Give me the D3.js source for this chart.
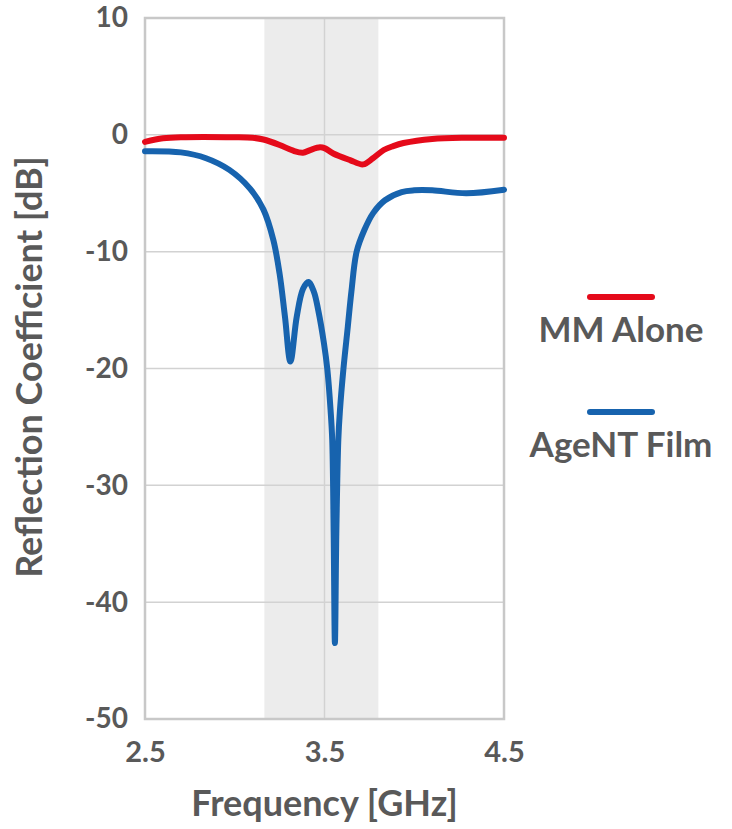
<!DOCTYPE html>
<html>
<head>
<meta charset="utf-8">
<script src="https://cdn.jsdelivr.net/npm/d3@7"></script>
<style>
  html, body { margin: 0; padding: 0; background: #fff; }
  svg { display: block; font-family: Lato, "Open Sans", sans-serif; }
</style>
</head>
<body>
<div id="chart"></div>
<script>
// frequency in GHz, reflection in dB
const mmFreq = [2.5, 2.6, 2.7, 3.0, 3.1, 3.16, 3.25, 3.326, 3.38, 3.42, 3.475, 3.503, 3.549, 3.642, 3.716,
                3.77, 3.83, 3.883, 3.94, 4.1, 4.3, 4.5];
const mmDb   = [-0.6, -0.3, -0.2, -0.2, -0.25, -0.4, -0.87, -1.36, -1.53, -1.3, -1.07, -1.16, -1.6, -2.16, -2.53,
                -2.0, -1.3, -0.96, -0.7, -0.35, -0.25, -0.25];

const filmFreq = [2.5, 2.7, 2.84, 2.97, 3.085, 3.16, 3.215, 3.25, 3.28, 3.31, 3.345, 3.38, 3.41, 3.44, 3.465,
                  3.497, 3.516, 3.534, 3.543, 3.551, 3.558, 3.566, 3.577, 3.586, 3.605, 3.63, 3.65, 3.679,
                  3.722, 3.771, 3.837, 3.93, 4.0, 4.1, 4.29, 4.5];
const filmDb   = [-1.4, -1.5, -2.0, -3.0, -4.6, -6.4, -9.0, -11.9, -15.6, -19.4, -15.6, -13.2, -12.6, -13.4, -15.0,
                  -17.85, -20.1, -23.6, -26.1, -34, -43.5, -34, -26.1, -23.6, -20.1, -16.4, -13.4, -10.0,
                  -8.15, -6.7, -5.6, -4.9, -4.75, -4.75, -5.0, -4.7];

const xTicks = [2.5, 3.5, 4.5];
const yTicks = [10, 0, -10, -20, -30, -40, -50];
const band = [3.165, 3.8];

const seriesNames = ['MM Alone', 'AgeNT Film'];
const seriesColors = ['#e50a1a', '#1763ae'];

const W = 732, H = 829;
const margin = {left: 145, top: 18, right: 228, bottom: 110};
const iw = W - margin.left - margin.right;
const ih = H - margin.top - margin.bottom;

const svg = d3.select('#chart').append('svg')
    .attr('width', W)
    .attr('height', H);

const g = svg.append('g')
    .attr('transform', `translate(${margin.left},${margin.top})`);

const x = d3.scaleLinear().domain([2.5, 4.5]).range([0, iw]);
const y = d3.scaleLinear().domain([-50, 10]).range([ih, 0]);

// shaded band
g.append('rect')
    .attr('x', x(band[0]))
    .attr('y', 0)
    .attr('width', x(band[1]) - x(band[0]))
    .attr('height', ih)
    .attr('fill', '#ececec');

// gridlines
g.append('g').selectAll('line')
    .data(yTicks)
    .join('line')
    .attr('x1', 0).attr('x2', iw)
    .attr('y1', d => y(d)).attr('y2', d => y(d))
    .attr('stroke', '#d2d2d2')
    .attr('stroke-width', 1.5);

g.append('g').selectAll('line')
    .data(xTicks)
    .join('line')
    .attr('x1', d => x(d)).attr('x2', d => x(d))
    .attr('y1', 0).attr('y2', ih)
    .attr('stroke', '#d2d2d2')
    .attr('stroke-width', 1.5);

// frame
g.append('rect')
    .attr('width', iw)
    .attr('height', ih)
    .attr('fill', 'none')
    .attr('stroke', '#c8c8c8')
    .attr('stroke-width', 2.5);

// axes (plain hyphen for negatives, like the original)
const yAxis = g.append('g')
    .call(d3.axisLeft(y).tickValues(yTicks).tickSize(0).tickPadding(17).tickFormat(d => String(d)));
yAxis.select('.domain').remove();
yAxis.attr('font-family', null);
yAxis.selectAll('text')
    .attr('fill', '#595959')
    .style('font-size', '28px')
    .style('font-weight', 'bold');

const xAxis = g.append('g')
    .attr('transform', `translate(0,${ih})`)
    .call(d3.axisBottom(x).tickValues(xTicks).tickSize(0).tickPadding(22).tickFormat(d3.format('.1f')));
xAxis.select('.domain').remove();
xAxis.attr('font-family', null);
xAxis.selectAll('text')
    .attr('fill', '#595959')
    .style('font-size', '29px')
    .style('font-weight', 'bold');

// lines
const line = d3.line()
    .x(d => x(d[0]))
    .y(d => y(d[1]))
    .curve(d3.curveCatmullRom.alpha(0.5));

const series = [
  d3.zip(mmFreq, mmDb),
  d3.zip(filmFreq, filmDb)
];

g.selectAll('.series')
    .data(series)
    .join('path')
    .attr('class', 'series')
    .attr('d', line)
    .attr('fill', 'none')
    .attr('stroke', (d, i) => seriesColors[i])
    .attr('stroke-width', 6)
    .attr('stroke-linecap', 'round')
    .attr('stroke-linejoin', 'round');

// axis titles
svg.append('text')
    .attr('x', margin.left + x(3.5))
    .attr('y', 816)
    .attr('text-anchor', 'middle')
    .attr('fill', '#595959')
    .style('font-size', '36px')
    .style('font-weight', 'bold')
    .text('Frequency [GHz]');

svg.append('text')
    .attr('transform', `translate(42,367) rotate(-90)`)
    .attr('text-anchor', 'middle')
    .attr('fill', '#595959')
    .style('font-size', '36px')
    .style('font-weight', 'bold')
    .text('Reflection Coefficient [dB]');

// legend
const legend = svg.append('g')
    .attr('transform', 'translate(621,297)');

const items = legend.selectAll('g')
    .data(seriesNames)
    .join('g')
    .attr('transform', (d, i) => `translate(0,${i * 115})`);

items.append('line')
    .attr('x1', -31).attr('x2', 31)
    .attr('stroke', (d, i) => seriesColors[i])
    .attr('stroke-width', 6)
    .attr('stroke-linecap', 'round');

items.append('text')
    .attr('y', 45)
    .attr('text-anchor', 'middle')
    .attr('fill', '#595959')
    .style('font-size', '35px')
    .style('font-weight', 'bold')
    .text(d => d);
</script>
</body>
</html>
